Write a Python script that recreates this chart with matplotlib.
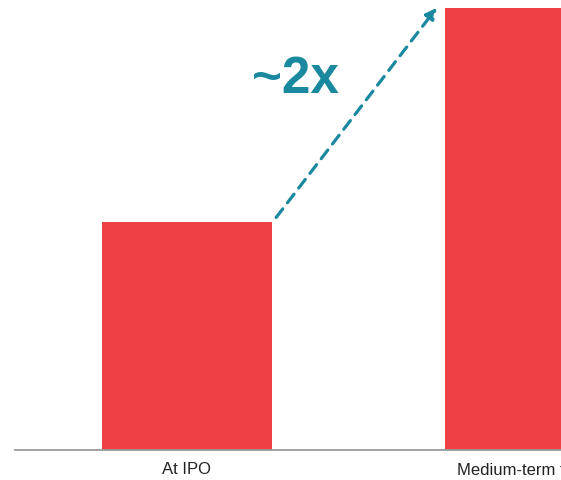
import matplotlib
matplotlib.use('Agg')
import matplotlib.pyplot as plt

# bar data (relative value, IPO = 1)
categories = ['At IPO', 'Medium-term target']
values = [1.0, 1.94]
multiple_label = '~2x'

bar_color = '#ef4044'
teal = '#1a89a0'

plt.rcParams['font.family'] = ['Liberation Sans', 'DejaVu Sans']

fig = plt.figure(figsize=(5.61, 4.80), dpi=100)
ax = fig.add_axes([15 / 561, 30 / 480, 546 / 561, 450 / 480])

x = list(range(len(categories)))
bars = ax.bar(x, values, width=0.496, color=bar_color)

ax.set_xlim(-0.501, 1.09)
ax.set_ylim(0, 1.974)

# hide everything except the baseline
for side in ['top', 'right', 'left']:
    ax.spines[side].set_visible(False)
ax.spines['bottom'].set_color('#9a9a9a')
ax.spines['bottom'].set_linewidth(1.3)
ax.set_yticks([])
ax.set_xticks(x)
ax.set_xticklabels(categories, fontsize=12, color='#222222')
ax.tick_params(axis='x', length=0, pad=9)

# dashed growth arrow from top of first bar toward second bar
x0 = bars[0].get_x() + bars[0].get_width() + 0.012
y0 = values[0] + 0.02
x1 = bars[1].get_x() - 0.024
y1 = values[1]
ax.annotate('', xy=(x1, y1), xytext=(x0, y0),
            arrowprops=dict(arrowstyle='-|>', color=teal, lw=2.3,
                            linestyle=(0, (3.4, 2.4)), mutation_scale=16,
                            shrinkA=0, shrinkB=0),
            annotation_clip=False)

ax.text(0.316, 1.625, multiple_label, color=teal, fontsize=37,
        fontweight='bold', ha='center', va='center')

fig.savefig('out.png', dpi=100)
